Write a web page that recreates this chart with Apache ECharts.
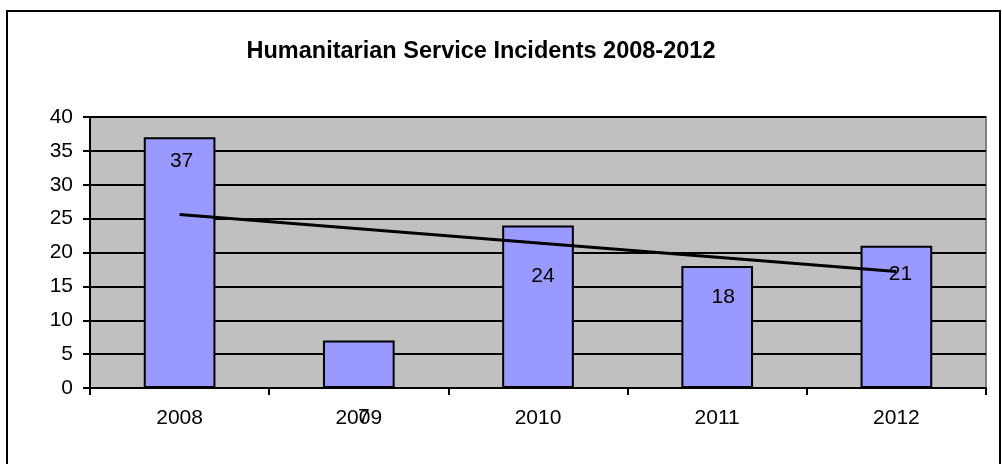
<!DOCTYPE html>
<html>
<head>
<meta charset="utf-8">
<script src="https://cdn.jsdelivr.net/npm/echarts@6/dist/echarts.min.js"></script>
<style>
  html, body { margin: 0; padding: 0; background: #ffffff; }
  #chart { width: 1002px; height: 464px; }
</style>
</head>
<body>
<div id="chart"></div>
<script>
// Yearly incident counts
const years = ['2008', '2009', '2010', '2011', '2012'];
const incidents = [37, 7, 24, 18, 21];
// Linear trend across the five years
const trend = [25.6, 23.5, 21.4, 19.3, 17.2];
const yTicks = { min: 0, max: 40, step: 5 };

// Where each value label sits inside its bar: [dx from bar centre, dy from bar top]
const labelNudge = [[2, 24], [5, 77], [5, 51], [6, 31], [4, 28]];

const FONT = '"Liberation Sans", Arial, sans-serif';

const chart = echarts.init(document.getElementById('chart'), null, { renderer: 'canvas' });

chart.setOption({
  animation: false,
  backgroundColor: '#ffffff',
  title: {
    text: 'Humanitarian Service Incidents 2008-2012',
    left: 476,
    top: 35,
    textAlign: 'center',
    textStyle: { fontFamily: FONT, fontSize: 23.5, fontWeight: 'bold', color: '#000000' }
  },
  graphic: [{
    type: 'rect',
    shape: { x: 7, y: 11, width: 993, height: 600 },
    style: { fill: 'none', stroke: '#000000', lineWidth: 2 },
    silent: true
  }],
  grid: {
    left: 90, right: 16, top: 117, bottom: 76,
    show: true,
    backgroundColor: '#c0c0c0',
    borderColor: '#808080',
    borderWidth: 2
  },
  xAxis: {
    type: 'category',
    data: years,
    axisLine: { lineStyle: { color: '#000000', width: 2 } },
    axisTick: { show: true, length: 7, inside: false, lineStyle: { color: '#000000', width: 2 } },
    axisLabel: { margin: 20, fontFamily: FONT, fontSize: 21, color: '#000000' }
  },
  yAxis: {
    type: 'value',
    min: yTicks.min, max: yTicks.max, interval: yTicks.step,
    axisLine: { show: true, lineStyle: { color: '#000000', width: 2 } },
    axisTick: { show: true, length: 7, lineStyle: { color: '#000000', width: 2 } },
    axisLabel: { margin: 17, fontFamily: FONT, fontSize: 21, color: '#000000' },
    splitLine: { show: true, lineStyle: { color: '#000000', width: 2 } }
  },
  series: [{
    type: 'bar',
    data: incidents.map((v, i) => ({
      value: v,
      label: {
        show: true,
        position: ['50%', labelNudge[i][1]],
        offset: [labelNudge[i][0], 0],
        align: 'center',
        verticalAlign: 'middle',
        fontFamily: FONT,
        fontSize: 21,
        color: '#000000'
      }
    })),
    barWidth: '40%',
    itemStyle: { color: '#9999ff', borderColor: '#000000', borderWidth: 2 },
    z: 2
  }, {
    type: 'line',
    data: trend,
    showSymbol: false,
    symbol: 'none',
    lineStyle: { color: '#000000', width: 3 },
    z: 3
  }]
});
</script>
</body>
</html>
